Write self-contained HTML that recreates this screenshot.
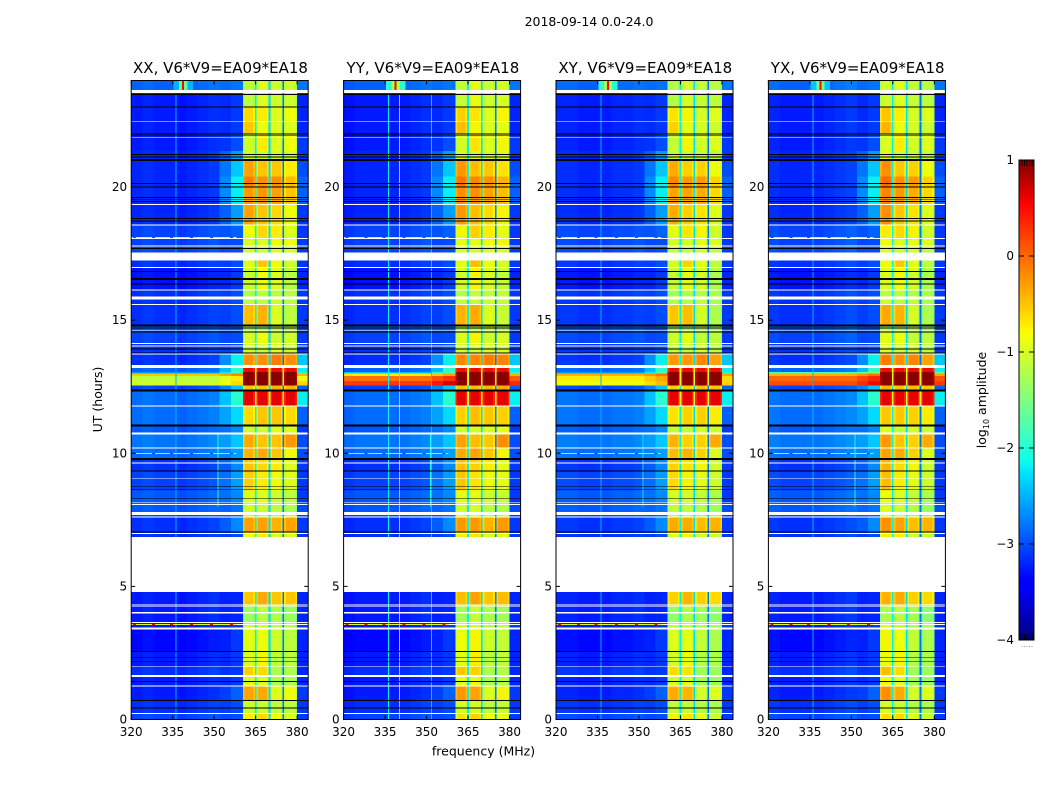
<!DOCTYPE html>
<html lang="en">
<head>
<meta charset="utf-8">
<title>2018-09-14 0.0-24.0</title>
<style>
html,body{margin:0;padding:0;background:#fff;}
svg{display:block;font-family:"DejaVu Sans","Liberation Sans",sans-serif;fill:#000;}
</style>
</head>
<body>
<svg id="figure" xmlns="http://www.w3.org/2000/svg" width="1050" height="800" viewBox="0 0 1050 800">
  <defs>
    <linearGradient id="jetGrad" x1="0" y1="1" x2="0" y2="0">
      <stop offset="0" stop-color="#000080"/><stop offset="0.11" stop-color="#0000ff"/>
      <stop offset="0.125" stop-color="#0000ff"/><stop offset="0.35" stop-color="#00e6ff"/>
      <stop offset="0.375" stop-color="#0dffeb"/><stop offset="0.5" stop-color="#80ff80"/>
      <stop offset="0.64" stop-color="#fbff00"/><stop offset="0.66" stop-color="#ffea00"/>
      <stop offset="0.89" stop-color="#ff1300"/><stop offset="0.91" stop-color="#ff0000"/>
      <stop offset="1" stop-color="#800000"/>
    </linearGradient>
  </defs>
  <rect width="1050" height="800" fill="#fff"/>
  <text x="589" y="26" font-size="12.5" text-anchor="middle">2018-09-14 0.0-24.0</text>
  <text x="483.5" y="755.5" font-size="12.5" text-anchor="middle">frequency (MHz)</text>
  <text transform="translate(102,399.5) rotate(-90)" font-size="12.5" text-anchor="middle">UT (hours)</text>
  <text transform="translate(986,400) rotate(-90)" font-size="12.5" text-anchor="middle">log<tspan font-size="8" dy="3">10</tspan><tspan dy="-3"> amplitude</tspan></text>
  <g id="panels"></g>
  <g id="colorbar"></g>
</svg>
<script>
// ---- categories ----
const panelTitles = ["XX, V6*V9=EA09*EA18", "YY, V6*V9=EA09*EA18", "XY, V6*V9=EA09*EA18", "YX, V6*V9=EA09*EA18"];
const xTickValues = [320, 335, 350, 365, 380];
const yTickValues = [0, 5, 10, 15, 20];
const colorbarTickValues = [1, 0, -1, -2, -3, -4];

// ---- time bands: start hour and log10 amplitude per frequency region ----
const rowStarts  = [0,0.22,0.72,1.26,1.63,2,2.55,3.4,3.65,4.3,6.85,7.04,7.6,7.8,8.15,8.6,9.34,9.8,10.2,10.75,11.04,11.78,12.36,12.55,12.72,12.9,13,13.05,13.3,13.75,14.15,14.6,14.8,15.58,15.9,16.15,17,17.54,17.78,18.07,18.6,19.34,20,20.4,21,21.35,22,22.47,23,23.6];
const floorLevels= [-3.05,-3.15,-3.25,-3.25,-3.15,-3.25,-3.35,-3.25,-3.25,-3.25,-3.15,-3.15,-3.05,-2.95,-2.95,-3.05,-3.15,-2.85,-2.8,-2.95,-2.85,-2.85,-3.05,-1,-1.1,-0.5,-2.6,-2.9,-3.15,-3.15,-3.05,-2.95,-3.15,-3.15,-3.15,-3.3,-3.15,-3.05,-3.05,-3.05,-3.2,-3.2,-3.2,-3.2,-3.2,-3.25,-3.25,-3.25,-3.25,-2.9];
const rampLevels = [-3,-3,-2.9,-3.1,-3.1,-3.1,-3.1,-3.1,-3.2,-3.2,-3,-2.7,-2.9,-2.8,-2.7,-2.6,-2.7,-2.6,-2.4,-2.7,-2.3,-2,-2.4,-0.6,-0.7,-0.3,-1.8,-2,-2.2,-3,-3,-2.9,-3,-3,-3,-3.1,-3,-3,-3,-2.9,-2.6,-2.2,-2.2,-2.4,-2.6,-3,-3.1,-3.1,-3.1,-2.8];
const sub1Levels = [-0.7,-1,-0.3,-0.9,-0.55,-0.9,-0.85,-1,-1.3,-0.5,-0.8,-0.3,-0.9,-1,-0.9,-0.55,-0.5,-0.4,-0.35,-1,-0.6,0.55,-0.5,0.97,0.97,0.97,0.97,0.5,-0.2,-1,-0.95,-1.2,-0.45,-1.1,-1.2,-1,-0.9,-1,-0.9,-0.8,-0.3,-0.25,-0.1,-0.3,-1,-1,-0.5,-0.6,-1.1,-1.1];
const sub2Levels = [-0.6,-1,-0.35,-0.9,-0.6,-0.75,-0.8,-1,-1.1,-0.35,-0.7,-0.3,-0.9,-1,-0.9,-0.7,-0.6,-0.35,-0.5,-1,-0.5,0.55,-0.5,0.97,0.97,0.97,0.97,0.5,-0.2,-1,-0.8,-1.2,-0.4,-1.1,-1.1,-0.8,-0.5,-1,-0.9,-0.6,-0.5,-0.25,-0.2,-0.5,-1,-0.7,-0.8,-0.7,-0.9,-0.9];
const sub3Levels = [-0.9,-1.2,-1,-1.3,-1.3,-1.2,-1.1,-1.2,-1.3,-0.6,-1,-0.5,-1.1,-1.2,-1.1,-0.9,-0.8,-0.6,-0.6,-1,-0.6,0.55,-0.5,0.97,0.97,0.97,0.97,0.5,-0.2,-1,-1.1,-1.2,-1,-1.1,-1.2,-1,-0.9,-1,-0.9,-0.8,-0.7,-0.4,-0.3,-0.6,-1.1,-1,-1,-1,-1.1,-1.1];
const sub4Levels = [-1,-1.2,-0.9,-1.3,-1.3,-1.2,-1.2,-1.2,-1.4,-0.6,-1,-0.4,-1.1,-1.3,-1.2,-1,-1,-0.9,-0.35,-1,-0.7,0.55,-0.5,0.97,0.97,0.97,0.97,0.5,-0.3,-1.1,-1.1,-1.3,-1.2,-1.2,-1.2,-1.2,-1.1,-1.1,-0.9,-1,-0.9,-0.6,-0.55,-0.8,-1.1,-0.9,-1,-0.9,-1.1,-1.1];
const edgeLevels = [-3.1,-3.1,-3.1,-3.2,-3.2,-3.2,-3.2,-3.1,-3.2,-3.2,-3.1,-3.1,-3.1,-3,-3.1,-3.1,-3.1,-3,-3,-3.1,-2.9,-2.2,-2.9,-0.6,-0.8,-0.4,-2,-2.2,-2.4,-3.1,-3.1,-3,-3.1,-3.1,-3.1,-3.2,-3.1,-3.1,-3.1,-3.1,-3.1,-2.9,-2.9,-3,-3.1,-3.1,-3.2,-3.2,-3.2,-2.8];

// ---- frequency structure (MHz) ----
const floorBinEdges = [320, 324, 328, 332, 336, 340, 344, 348, 352];
const xxFloorProfile = [0, 0.05, 0, 0, -0.05, 0, 0.05, 0.1];
const yyFloorProfile = [-0.05, 0, 0, 0, 0, 0, 0.05, 0.1];
const xyFloorProfile = [0.05, 0.05, 0, 0, 0, 0.05, 0.05, 0.1];
const yxFloorProfile = [0.05, 0, 0, 0, 0, 0.05, 0.1, 0.15];
const subbandEdges = [360.4, 365, 370, 375, 380];
const gapLevels = [-2.2, -2.3, -2.8];

// ---- per-panel amplitude shifts for subbands 1..4 ----
const xxSubShift = [0, 0, 0.1, 0.1];
const yySubShift = [0.05, 0.05, 0.1, 0.15];
const xySubShift = [-0.05, -0.05, 0.05, 0];
const yxSubShift = [0.1, 0, 0.05, 0];

// ---- flare floor levels at rows 12.55, 12.72, 12.9, 13.0 ----
const xxFlareFloor = [-1, -1.1, -0.5, -2.6];
const yyFlareFloor = [0.25, -0.05, -0.7, -2.4];
const xyFlareFloor = [-0.8, -0.7, -0.4, -2.6];
const yxFlareFloor = [0.15, 0, -0.4, -1.8];

// ---- flagged time ranges (hours) ----
const whiteStart = [23.53,22.45,21.85,19.32,18.55,18.05,17.76,17.23,16.96,16.11,15.77,15.56,14.58,14.11,14.01,13.71,13.2,11.76,10.71,10.17,9.62,9.04,8.12,8.05,7.67,7.58,6.96,4.78,4.31,4.25,3.97,3.62,3.55,3.38,1.96,1.59,1.24,0.2];
const whiteEnd   = [23.64,22.49,21.89,19.36,18.59,18.09,17.8,17.54,17,16.15,15.89,15.6,14.62,14.15,14.05,13.75,13.31,11.8,10.79,10.21,9.66,9.08,8.16,8.09,7.79,7.62,7,6.85,4.35,4.29,4.04,3.66,3.59,3.45,2,1.67,1.28,0.24];
const blackStart = [23.46,22.98,21.98,21.93,21.2,21.11,20.98,20.11,19.98,19.58,19.5,19.43,18.8,18.71,17.67,16.8,16.5,16.34,14.75,14.68,14.54,13.9,13.75,12.32,11,9.75,9.32,8.74,8.61,8.29,7.02,2.54,2.3,2.15,1.41,0.7,0.41];
const blackEnd   = [23.5,23.02,22.02,21.97,21.24,21.15,21.06,20.15,20.02,19.62,19.54,19.47,18.84,18.75,17.71,16.84,16.58,16.38,14.83,14.72,14.58,13.94,13.79,12.4,11.08,9.83,9.36,8.78,8.65,8.33,7.06,2.58,2.34,2.19,1.45,0.74,0.45];

// ---- narrow-band RFI ----
const lineFreqs = [336, 340, 351.6, 351.2];
const lineStart = [0, 0, 0, 8];
const lineEnd   = [23.5, 23.5, 23.5, 10.7];
const xxLineLevels = [-2.5, -9, -9, -1.9];
const yyLineLevels = [-2.2, -2, -2.4, -2.1];
const xyLineLevels = [-2.5, -9, -9, -2.2];
const yxLineLevels = [-2.5, -9, -9, -2.1];
const spikeFreq = 338.8;
const spikeGlowXX = -2.5;
const spikeGlowYY = -2;
const spikeGlowXY = -2;
const spikeGlowYX = -2.4;
const rfiRowTimes = [18.11, 10, 3.6];
const rfiRowLevels = [-0.9, -1.3, -1];
const rfiHotFreqs = [320.7, 327.6, 334, 341.3, 348.5, 355.7];
const colorbarMinorOffsets = [0.1, 0.27, 0.44, 0.61, 0.78];

const panelFloorProfiles = [xxFloorProfile, yyFloorProfile, xyFloorProfile, yxFloorProfile];
const panelSubShifts = [xxSubShift, yySubShift, xySubShift, yxSubShift];
const panelFlareFloors = [xxFlareFloor, yyFlareFloor, xyFlareFloor, yxFlareFloor];
const panelLineLevels = [xxLineLevels, yyLineLevels, xyLineLevels, yxLineLevels];
const panelSpikeGlows = [spikeGlowXX, spikeGlowYY, spikeGlowXY, spikeGlowYX];

const NS = "http://www.w3.org/2000/svg";
const FREQ_MIN = 320, FREQ_MAX = 384, HOUR_MAX = 24, PANEL_W = 177;
const AX_TOP = 80.5, AX_BOTTOM = 719.5, LOG_MIN = -4, LOG_MAX = 1;
const FLAG_INSET = 0.003;

function xScale(f, left) { return left + (f - FREQ_MIN) * PANEL_W / (FREQ_MAX - FREQ_MIN); }
function yScale(t) { return AX_BOTTOM - t * (AX_BOTTOM - AX_TOP) / HOUR_MAX; }
function cbScale(v) { return 640 - (v - LOG_MIN) * 96; }

function seg(x, p) {
  for (let i = 1; i < p.length; i++) {
    if (x <= p[i][0]) {
      const a = p[i - 1], b = p[i];
      return a[1] + (b[1] - a[1]) * (x - a[0]) / (b[0] - a[0]);
    }
  }
  return p[p.length - 1][1];
}
function jet(level) {
  const x = Math.max(0, Math.min(1, (level - LOG_MIN) / (LOG_MAX - LOG_MIN)));
  const r = seg(x, [[0, 0], [0.35, 0], [0.66, 1], [0.89, 1], [1, 0.5]]);
  const g = seg(x, [[0, 0], [0.125, 0], [0.375, 1], [0.64, 1], [0.91, 0], [1, 0]]);
  const b = seg(x, [[0, 0.5], [0.11, 1], [0.34, 1], [0.65, 0], [1, 0]]);
  return "rgb(" + Math.round(r * 255) + "," + Math.round(g * 255) + "," + Math.round(b * 255) + ")";
}
function makeRect(parent, x, y, w, h, fill) {
  const el = document.createElementNS(NS, "rect");
  el.setAttribute("x", x.toFixed(2));
  el.setAttribute("y", y.toFixed(2));
  el.setAttribute("width", Math.max(w, 0).toFixed(2));
  el.setAttribute("height", Math.max(h, 0).toFixed(2));
  el.setAttribute("fill", fill);
  el.setAttribute("shape-rendering", "crispEdges");
  parent.appendChild(el);
  return el;
}
function makeLine(parent, x1, y1, x2, y2) {
  const el = document.createElementNS(NS, "line");
  el.setAttribute("x1", x1);
  el.setAttribute("y1", y1);
  el.setAttribute("x2", x2);
  el.setAttribute("y2", y2);
  el.setAttribute("stroke", "#000");
  el.setAttribute("stroke-width", "1");
  parent.appendChild(el);
  return el;
}
function makeText(parent, x, y, str, size, anchor) {
  const el = document.createElementNS(NS, "text");
  el.setAttribute("x", x);
  el.setAttribute("y", y);
  el.setAttribute("font-size", size);
  el.setAttribute("text-anchor", anchor);
  el.textContent = str;
  parent.appendChild(el);
  return el;
}

function cellCols(pi, row) {
  // returns [f0, f1, level] spans for one time band of one panel
  const flareIndex = row - 23;
  const isFlare = flareIndex >= 0 && flareIndex < 4;
  const flare = panelFlareFloors[pi];
  const floor = isFlare ? flare[flareIndex] : floorLevels[row];
  const ramp = isFlare ? Math.max(flare[flareIndex] + 0.35, rampLevels[row]) : rampLevels[row];
  const edge = isFlare ? Math.max(flare[flareIndex] + 0.1, edgeLevels[row]) : edgeLevels[row];
  const spans = [];
  const profile = panelFloorProfiles[pi];
  for (let i = 0; i < profile.length; i++) {
    spans.push([floorBinEdges[i], floorBinEdges[i + 1], floor + (isFlare ? 0 : profile[i])]);
  }
  spans.push([352, 356, (floor + ramp) / 2]);
  spans.push([356, subbandEdges[0], ramp]);
  const subs = [sub1Levels[row], sub2Levels[row], sub3Levels[row], sub4Levels[row]];
  const shifts = panelSubShifts[pi];
  for (let i = 0; i < 4; i++) {
    const lo = subbandEdges[i], hi = subbandEdges[i + 1];
    const hot = subs[i] > 0.4;
    const lvl = hot ? subs[i] : subs[i] + shifts[i];
    const gapL = i === 0 ? 0 : 0.3, gapR = i === 3 ? 0 : 0.3;
    const shoulder = 0.18;
    spans.push([lo + gapL, lo + gapL + 0.6, lvl - shoulder]);
    spans.push([lo + gapL + 0.6, hi - gapR - 0.6, lvl]);
    spans.push([hi - gapR - 0.6, hi - gapR, lvl - shoulder]);
    if (i < 3) spans.push([hi - 0.3, hi + 0.3, hot ? -1 : gapLevels[i]]);
  }
  spans.push([subbandEdges[4], FREQ_MAX, edge]);
  return spans;
}

const panelsRoot = document.getElementById("panels");
panelTitles.forEach(function (title, pi) {
  const left = 131.2 + pi * 212.4;
  const g = document.createElementNS(NS, "g");
  
  
  panelsRoot.appendChild(g);

  const heat = document.createElementNS(NS, "g");
  
  
  g.appendChild(heat);

  // time-frequency cells
  rowStarts.forEach(function (start, row) {
    const end = row + 1 < rowStarts.length ? rowStarts[row + 1] : HOUR_MAX;
    cellCols(pi, row).forEach(function (c) {
      const x0 = xScale(c[0], left), x1 = xScale(c[1], left);
      const cell = makeRect(heat, x0, yScale(end), x1 - x0, yScale(start) - yScale(end), jet(c[2]));
      
      
    });
  });

  // narrow spectral lines
  lineFreqs.forEach(function (f, i) {
    const lvl = panelLineLevels[pi][i];
    if (lvl < LOG_MIN) return;
    const el = makeRect(heat, xScale(f, left), yScale(lineEnd[i]), 1, yScale(lineStart[i]) - yScale(lineEnd[i]), jet(lvl));
    
    
  });

  // spike at the top of the panel
  const spikeBandH = yScale(23.64) - yScale(24);
  const glowOuter = makeRect(heat, xScale(spikeFreq - 3.5, left), yScale(24), xScale(spikeFreq + 3.5, left) - xScale(spikeFreq - 3.5, left), spikeBandH, jet(panelSpikeGlows[pi]));
  
  
  const glowInner = makeRect(heat, xScale(spikeFreq - 1.5, left), yScale(24), xScale(spikeFreq + 1.5, left) - xScale(spikeFreq - 1.5, left), spikeBandH, jet(panelSpikeGlows[pi] + 0.8));
  
  
  const spike = makeRect(heat, xScale(spikeFreq - 0.4, left), yScale(24), 2, spikeBandH, jet(0.5));
  
  

  // flagged rows
  whiteStart.forEach(function (t0, i) {
    const yTop = yScale(whiteEnd[i] - FLAG_INSET), yBot = yScale(t0 + FLAG_INSET);
    const el = makeRect(heat, left, yTop, PANEL_W, yBot - yTop, "#fff");
    
    
  });

  // time-localised RFI rows
  rfiRowTimes.forEach(function (t, i) {
    const row = makeRect(heat, xScale(320, left), Math.round(yScale(t)), xScale(358, left) - xScale(320, left), 1, jet(rfiRowLevels[i]));
    
    
    rfiHotFreqs.forEach(function (f) {
      const hot = makeRect(heat, xScale(f, left), Math.round(yScale(t)), 3, 1, jet(0.55));
      
      
    });
  });

  blackStart.forEach(function (t0, i) {
    const yTop = yScale(blackEnd[i] - FLAG_INSET), yBot = yScale(t0 + FLAG_INSET);
    const el = makeRect(heat, left, yTop, PANEL_W, yBot - yTop, "#000");
    
    
  });

  // axes frame
  const frame = document.createElementNS(NS, "rect");
  frame.setAttribute("x", left);
  frame.setAttribute("y", AX_TOP);
  frame.setAttribute("width", PANEL_W);
  frame.setAttribute("height", AX_BOTTOM - AX_TOP);
  frame.setAttribute("fill", "none");
  frame.setAttribute("stroke", "#000");
  frame.setAttribute("stroke-width", "1");
  
  
  g.appendChild(frame);

  // ticks
  xTickValues.forEach(function (v) {
    const x = xScale(v, left);
    const bottomTick = makeLine(g, x, AX_BOTTOM, x, AX_BOTTOM - 4);
    
    
    const topTick = makeLine(g, x, AX_TOP, x, AX_TOP + 4);
    
    
    const label = makeText(g, x, 736, String(v), 12, "middle");
    
    
  });
  yTickValues.forEach(function (v) {
    const y = yScale(v);
    const leftTick = makeLine(g, left, y, left + 4, y);
    
    
    const rightTick = makeLine(g, left + PANEL_W, y, left + PANEL_W - 4, y);
    
    
    const label = makeText(g, left - 4, y + 4, String(v), 12, "end");
    
    
  });

  const titleEl = makeText(g, left + PANEL_W / 2 + 0.8, 73, title, 15, "middle");
  
  
});

// colorbar
const cb = document.getElementById("colorbar");
const cbBar = makeRect(cb, 1019, cbScale(LOG_MAX), 15, cbScale(LOG_MIN) - cbScale(LOG_MAX), "url(#jetGrad)");
cbBar.setAttribute("shape-rendering", "auto");


const cbFrame = document.createElementNS(NS, "rect");
cbFrame.setAttribute("x", 1019);
cbFrame.setAttribute("y", cbScale(LOG_MAX));
cbFrame.setAttribute("width", 15);
cbFrame.setAttribute("height", cbScale(LOG_MIN) - cbScale(LOG_MAX));
cbFrame.setAttribute("fill", "none");
cbFrame.setAttribute("stroke", "#000");


cb.appendChild(cbFrame);
colorbarTickValues.forEach(function (v) {
  const y = cbScale(v);
  if (v !== LOG_MAX && v !== LOG_MIN) {
    const l = makeLine(cb, 1019, y, 1024, y);
    
    
    const r = makeLine(cb, 1034, y, 1029, y);
    
    
  }
  const label = makeText(cb, 1014, y + 4, v < 0 ? "\u2212" + Math.abs(v) : String(v), 12, "end");
  
  
});
colorbarMinorOffsets.forEach(function (frac) {
  const x = 1019 + 15 * frac + 1.5;
  const topMinor = makeLine(cb, x, 160, x, 166);
  
  
  const bottomMinor = makeLine(cb, x, 640, x, 634);
  
  
  const dot = makeRect(cb, x - 0.5, 646, 1, 1, "#999");
  
  
});
</script>
</body>
</html>
